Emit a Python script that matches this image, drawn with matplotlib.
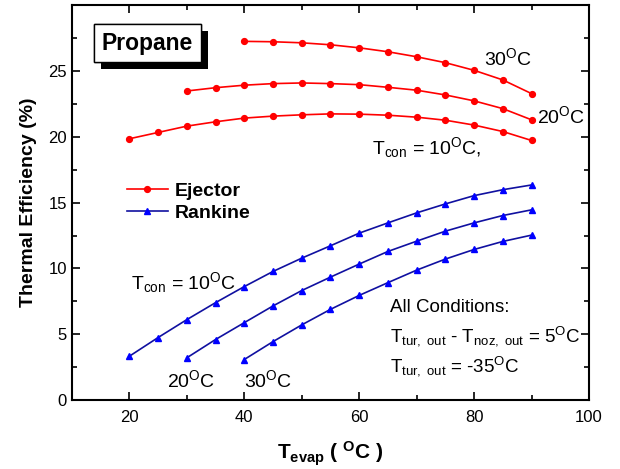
import matplotlib
matplotlib.use("Agg")
import matplotlib.pyplot as plt
import matplotlib.patheffects as pe
from matplotlib.ticker import MultipleLocator

plt.rcParams['font.family'] = ['Liberation Sans', 'DejaVu Sans']
plt.rcParams['mathtext.fontset'] = 'custom'
plt.rcParams['mathtext.rm'] = 'Liberation Sans'
plt.rcParams['mathtext.it'] = 'Liberation Sans:italic'
plt.rcParams['mathtext.bf'] = 'Liberation Sans:bold'
plt.rcParams['mathtext.default'] = 'regular'

# Data
ej_x30 = [40, 45, 50, 55, 60, 65, 70, 75, 80, 85, 90]
ej_y30 = [27.25, 27.22, 27.14, 26.99, 26.76, 26.46, 26.08, 25.63, 25.05, 24.32, 23.28]
ej_x20 = [30, 35, 40, 45, 50, 55, 60, 65, 70, 75, 80, 85, 90]
ej_y20 = [23.48, 23.73, 23.92, 24.04, 24.09, 24.04, 23.96, 23.76, 23.54, 23.18, 22.73, 22.14, 21.29]
ej_x10 = [20, 25, 30, 35, 40, 45, 50, 55, 60, 65, 70, 75, 80, 85, 90]
ej_y10 = [19.85, 20.33, 20.81, 21.14, 21.42, 21.57, 21.67, 21.74, 21.72, 21.64, 21.49, 21.26, 20.89, 20.40, 19.72]

rk_x10 = [20, 25, 30, 35, 40, 45, 50, 55, 60, 65, 70, 75, 80, 85, 90]
rk_y10 = [3.33, 4.75, 6.11, 7.40, 8.62, 9.77, 10.78, 11.72, 12.68, 13.46, 14.22, 14.90, 15.53, 15.98, 16.34]
rk_x20 = [30, 35, 40, 45, 50, 55, 60, 65, 70, 75, 80, 85, 90]
rk_y20 = [3.21, 4.60, 5.88, 7.15, 8.32, 9.34, 10.33, 11.29, 12.07, 12.83, 13.46, 14.02, 14.45]
rk_x30 = [40, 45, 50, 55, 60, 65, 70, 75, 80, 85, 90]
rk_y30 = [3.08, 4.44, 5.71, 6.89, 7.95, 8.92, 9.87, 10.71, 11.44, 12.05, 12.53]

fig = plt.figure(figsize=(6.2, 4.69), dpi=100)
ax = fig.add_axes([0.116, 0.147, 0.834, 0.842])

red = '#ff0000'
navy = '#1010a0'
blue = '#0000ff'

ej_kw = dict(color=red, marker='o', markersize=4.2, linewidth=1.2, markerfacecolor=red, markeredgecolor=red)
rk_kw = dict(color=navy, marker='^', markersize=4.8, linewidth=1.2, markerfacecolor=blue, markeredgecolor=blue)

l1, = ax.plot(ej_x10, ej_y10, **ej_kw)
ax.plot(ej_x20, ej_y20, **ej_kw)
ax.plot(ej_x30, ej_y30, **ej_kw)
l2, = ax.plot(rk_x10, rk_y10, **rk_kw)
ax.plot(rk_x20, rk_y20, **rk_kw)
ax.plot(rk_x30, rk_y30, **rk_kw)

ax.set_xlim(10, 100)
ax.set_ylim(0, 30)
ax.set_xticks([20, 40, 60, 80, 100])
ax.set_yticks([0, 5, 10, 15, 20, 25])
ax.xaxis.set_minor_locator(MultipleLocator(10))
ax.yaxis.set_minor_locator(MultipleLocator(2.5))
ax.tick_params(which='both', direction='in', top=True, right=True, labelsize=12, width=1.2)
ax.tick_params(which='major', length=6)
ax.tick_params(which='minor', length=3.5)
ax.tick_params(axis='x', pad=7)
for s in ax.spines.values():
    s.set_linewidth(1.5)

ax.set_xlabel(r'$\mathbf{T_{evap}}$ ( $\mathbf{^{O}C}$ )', fontsize=15, fontweight='bold', labelpad=11)
ax.set_ylabel('Thermal Efficiency (%)', fontsize=14, fontweight='bold', labelpad=8)

leg = ax.legend([l1, l2], ['Ejector', 'Rankine'], loc='upper left', bbox_to_anchor=(0.08, 0.585),
                frameon=False, prop={'weight': 'bold', 'size': 14}, handlelength=2.1,
                handletextpad=0.35, labelspacing=0.2, borderpad=0.2)

fs = 14
ax.text(86, 26.0, r'30$^{O}$C', fontsize=fs, ha='center', va='center')
ax.text(95.2, 21.6, r'20$^{O}$C', fontsize=fs, ha='center', va='center')
ax.text(71.8, 19.2, r'T$_{con}$ = 10$^{O}$C,', fontsize=fs, ha='center', va='center')
ax.text(20.3, 8.9, r'T$_{con}$ = 10$^{O}$C', fontsize=fs, ha='left', va='center')
ax.text(26.5, 1.55, r'20$^{O}$C', fontsize=fs, ha='left', va='center')
ax.text(39.9, 1.55, r'30$^{O}$C', fontsize=fs, ha='left', va='center')
ax.text(65.3, 7.05, 'All Conditions:', fontsize=13.5, ha='left', va='center')
ax.text(65.3, 4.85, r'T$_{tur,\ out}$ - T$_{noz,\ out}$ = 5$^{O}$C', fontsize=13.5, ha='left', va='center')
ax.text(65.3, 2.6, r'T$_{tur,\ out}$ = -35$^{O}$C', fontsize=13.5, ha='left', va='center')

t = ax.text(15.2, 27.1, 'Propane', fontsize=16.5, fontweight='bold', ha='left', va='center',
            bbox=dict(boxstyle='square,pad=0.33', facecolor='white', edgecolor='black', linewidth=1.0))
t.get_bbox_patch().set_path_effects([pe.withSimplePatchShadow(offset=(5, -5), shadow_rgbFace='black', alpha=1.0), pe.Normal()])

fig.savefig('out.png', dpi=100)
